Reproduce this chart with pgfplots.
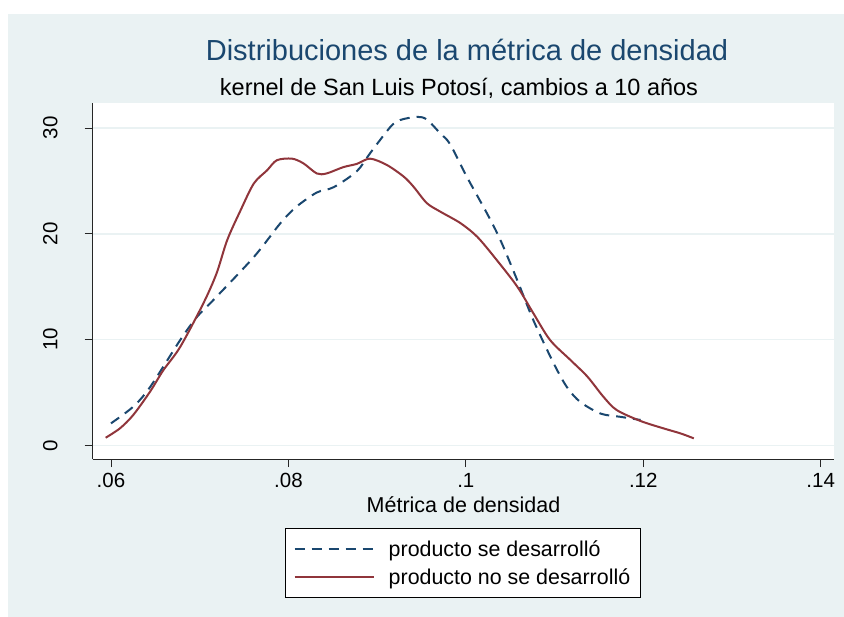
\documentclass[border=0pt]{standalone}
\usepackage{fontspec}
\setmainfont{Liberation Sans}
\usepackage{pgfplots}
\pgfplotsset{compat=1.18}

\definecolor{bgc}{HTML}{EAF2F3}
\definecolor{navy}{HTML}{1A476F}
\definecolor{maroon}{HTML}{90353B}

\newcommand{\fs}[1]{\fontsize{#1bp}{#1bp}\selectfont}

\begin{document}
\begin{tikzpicture}
% page and graph region
\fill[white] (0bp,0bp) rectangle (844bp,617bp);
\fill[bgc] (8bp,0bp) rectangle (844bp,603bp);

% titles
\node[anchor=base, text=navy, font=\fs{29}] at (467bp,556bp) {Distribuciones de la métrica de densidad};
\node[anchor=base, font=\fs{23.5}] at (459bp,521bp) {kernel de San Luis Potosí, cambios a 10 años};

\begin{axis}[
  at={(92.7bp,158bp)}, anchor=south west,
  scale only axis, width=741.3bp, height=356bp,
  xmin=0.05794, xmax=0.1415, ymin=-1.29, ymax=32.36,
  axis x line*=bottom, axis y line*=left,
  axis line style={color=black!85, line width=0.9bp},
  axis background/.style={fill=white},
  xtick={0.06,0.08,0.10,0.12,0.14},
  xticklabels={.06,.08,.1,.12,.14},
  ytick={0,10,20,30},
  yticklabels={0,10,20,30},
  tick align=outside,
  major tick length=8bp,
  tick style={color=black!85, line width=0.9bp},
  ticklabel style={font=\fs{20.5}},
  xticklabel style={anchor=north, inner sep=0pt},
  yticklabel style={rotate=90, anchor=south, inner sep=0pt},
  xticklabel shift=6bp,
  yticklabel shift=27bp,
  ymajorgrids,
  major grid style={color=bgc, line width=1.6bp},
  xlabel={Métrica de densidad},
  xlabel style={at={(axis description cs:0.5002,-0.1503)}, anchor=base, font=\fs{21.5}},
  legend style={
    at={(axis description cs:0.4995,-0.1938)}, anchor=north,
    draw=black, line width=0.8bp, fill=white,
    font=\fs{21.4},
    inner xsep=8bp, inner ysep=10bp,
    row sep=7bp,
    nodes={inner sep=2bp},
    /tikz/every odd column/.append style={column sep=12bp},
  },
  legend cell align=left,
  legend image code/.code={\draw[#1] (0bp,0bp) -- (79bp,0bp);},
]

% product developed
\addplot[color=navy, line width=2bp, dash pattern=on 10bp off 7bp, smooth, tension=0.5] coordinates {
(0.0600,2.08) (0.0625,3.65) (0.0644,5.5) (0.0678,9.95) (0.0697,12.15)
(0.0715,13.7) (0.0761,17.8) (0.0791,21.0) (0.0809,22.55) (0.0832,23.9)
(0.0851,24.4) (0.0877,25.9) (0.0892,27.6) (0.0915,30.1) (0.0926,30.75)
(0.0945,31.05) (0.0956,30.8) (0.0971,29.5) (0.0982,28.5) (0.1001,25.4)
(0.1024,21.9) (0.1039,19.4) (0.1058,15.6) (0.1076,11.85) (0.1099,7.75)
(0.1114,5.5) (0.1129,4.1) (0.1152,3.0) (0.1174,2.7) (0.1197,2.4)
};
\addlegendentry{producto se desarrolló}

% product not developed
\addplot[color=maroon, line width=2bp, smooth, tension=0.5] coordinates {
(0.0594,0.72) (0.0610,1.6) (0.0625,2.86) (0.0644,5.07) (0.0659,7.1)
(0.0678,9.3) (0.0704,13.4) (0.0719,16.25) (0.0731,19.4) (0.0746,22.2)
(0.0761,24.75) (0.0776,26.0) (0.0787,26.95) (0.0804,27.1) (0.0817,26.65)
(0.0832,25.7) (0.0843,25.7) (0.0862,26.3) (0.0877,26.6) (0.0892,27.1)
(0.0911,26.5) (0.0930,25.4) (0.0941,24.45) (0.0956,22.9) (0.0971,22.1)
(0.0994,21.0) (0.1013,19.7) (0.1035,17.5) (0.1058,15.0) (0.1076,12.5)
(0.1095,9.95) (0.1118,8.06) (0.1137,6.5) (0.1155,4.6) (0.1170,3.34)
(0.1197,2.3) (0.1223,1.6) (0.1242,1.13) (0.1257,0.66)
};
\addlegendentry{producto no se desarrolló}
\end{axis}
\end{tikzpicture}
\end{document}
